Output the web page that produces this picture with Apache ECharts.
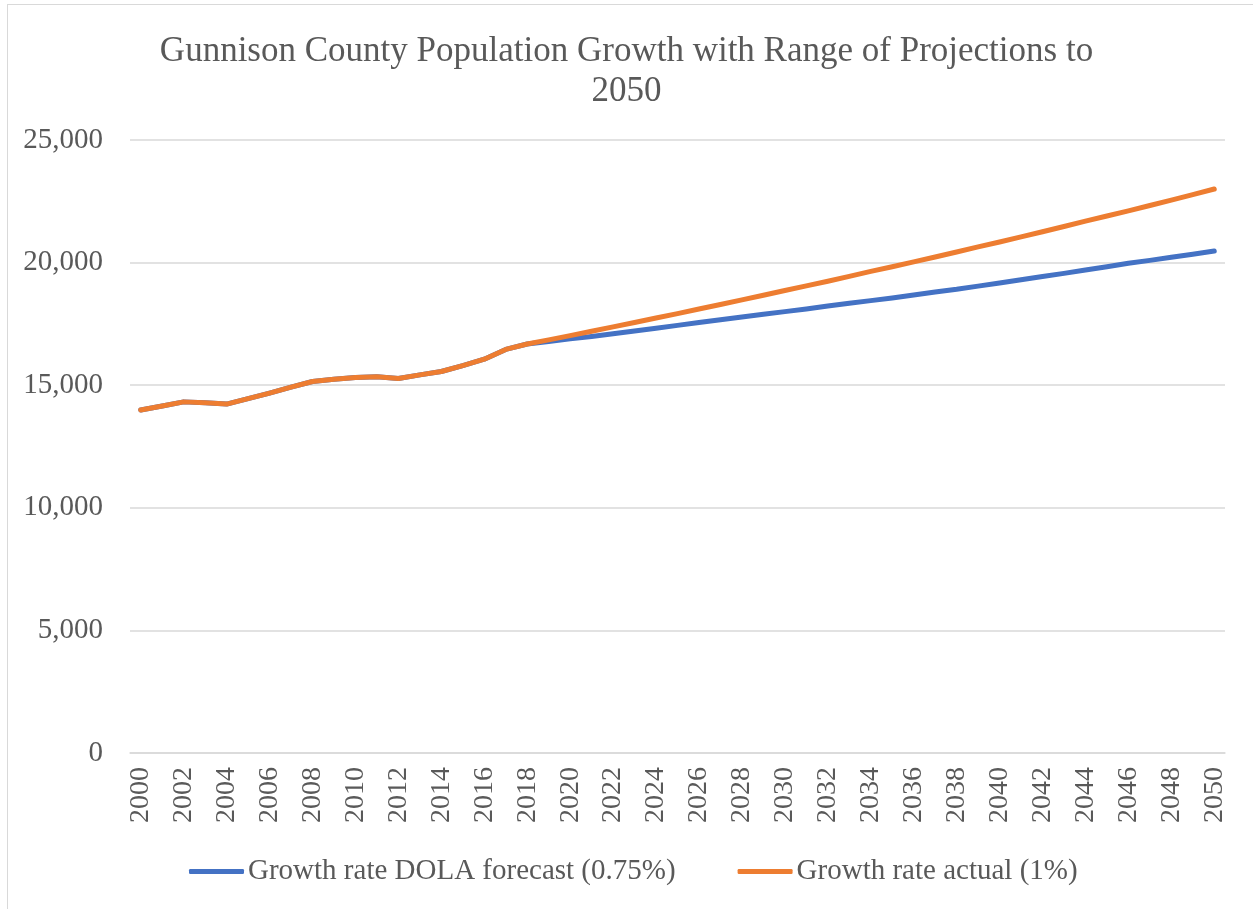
<!DOCTYPE html>
<html>
<head>
<meta charset="utf-8">
<title>Gunnison County Population Growth</title>
<script src="https://cdn.jsdelivr.net/npm/echarts@6/dist/echarts.min.js"></script>
<style>
  html, body { margin: 0; padding: 0; background: #fff; }
  #frame { position: absolute; left: 7px; top: 4px; width: 1246px; height: 905px;
           border-left: 1px solid #d9d9d9; border-top: 1px solid #d9d9d9; }
  #chart { position: absolute; left: 0; top: 0; width: 1253px; height: 909px; }
</style>
</head>
<body>
<div id="frame"></div>
<div id="chart"></div>
<script>
// years 2000..2050
var years = [];
for (var y = 2000; y <= 2050; y++) years.push(String(y));

// 2000-2018 is shared by both lines
var pastPopulation = [13990, 14150, 14320, 14280, 14230, 14450, 14680, 14920, 15150, 15240,
                      15310, 15340, 15270, 15420, 15560, 15800, 16060, 16460, 16680];

// 2019..2050
var dolaForecast = [16780, 16890, 16990, 17100, 17210, 17320, 17440, 17560, 17670, 17780,
                    17890, 18000, 18110, 18230, 18340, 18450, 18560, 18680, 18800, 18910,
                    19040, 19170, 19300, 19430, 19560, 19700, 19830, 19970, 20090, 20220,
                    20340, 20470];
var actualRate = [16850, 17020, 17200, 17380, 17560, 17740, 17920, 18110, 18290, 18480,
                  18670, 18860, 19050, 19240, 19440, 19640, 19830, 20030, 20230, 20430,
                  20640, 20840, 21050, 21260, 21470, 21690, 21900, 22110, 22330, 22550,
                  22770, 23000];

var yTicks = [0, 5000, 10000, 15000, 20000, 25000];

var seriesNames = ['Growth rate DOLA forecast (0.75%)', 'Growth rate actual (1%)'];

var chart = echarts.init(document.getElementById('chart'));
var font = '"Liberation Serif", "Times New Roman", serif';

var option = {
  animation: false,
  color: ['#4472C4', '#ED7D31'],
  textStyle: { fontFamily: font, color: '#595959' },
  title: {
    text: 'Gunnison County Population Growth with Range of Projections to\n2050',
    left: 'center',
    top: 27,
    textStyle: { fontFamily: font, fontSize: 35, fontWeight: 'normal', color: '#595959', lineHeight: 40 }
  },
  grid: { left: 130, right: 28, top: 140, bottom: 156 },
  legend: {
    bottom: 18,
    left: 184,
    icon: 'roundRect',
    itemWidth: 55,
    itemHeight: 5,
    itemGap: 62,
    textStyle: { fontFamily: font, fontSize: 29, color: '#595959', padding: [0, 0, 0, -1] },
    data: seriesNames
  },
  xAxis: {
    type: 'category',
    data: years,
    boundaryGap: true,
    axisLine: { lineStyle: { color: '#d9d9d9', width: 1.5 } },
    axisTick: { show: false },
    axisLabel: { interval: 1, rotate: 90, fontFamily: font, fontSize: 28, color: '#595959', margin: 14 }
  },
  yAxis: {
    type: 'value',
    min: yTicks[0],
    max: yTicks[yTicks.length - 1],
    interval: 5000,
    axisLine: { show: false },
    axisTick: { show: false },
    splitLine: { lineStyle: { color: '#d9d9d9', width: 1.5 } },
    axisLabel: {
      fontFamily: font, fontSize: 29, color: '#595959', margin: 27,
      formatter: function (v) { return v.toLocaleString('en-US'); }
    }
  },
  series: [
    {
      name: seriesNames[0],
      type: 'line',
      data: pastPopulation.concat(dolaForecast),
      symbol: 'none',
      lineStyle: { width: 5, cap: 'round', join: 'round' }
    },
    {
      name: seriesNames[1],
      type: 'line',
      data: pastPopulation.concat(actualRate),
      symbol: 'none',
      lineStyle: { width: 5, cap: 'round', join: 'round' }
    }
  ]
};
chart.setOption(option);
</script>
</body>
</html>
